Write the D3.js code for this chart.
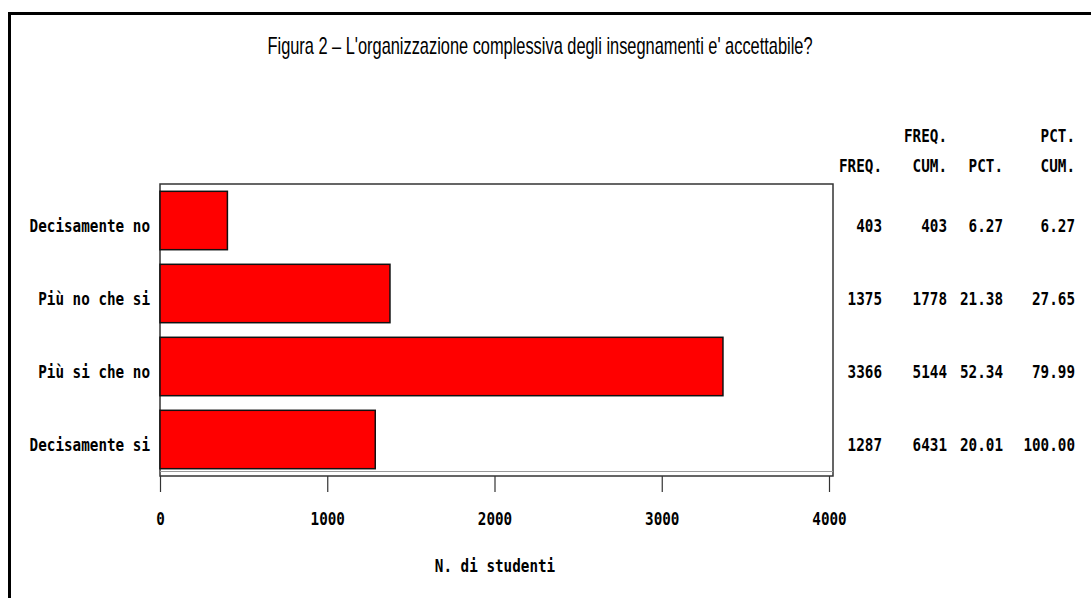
<!DOCTYPE html>
<html>
<head>
<meta charset="utf-8">
<script src="https://cdn.jsdelivr.net/npm/d3@7"></script>
<style>
  body { margin: 0; background: #fff; }
  .mono { font-family: "DejaVu Sans Mono", "Liberation Mono", monospace; font-size: 17px; font-weight: bold; fill: #000; }
</style>
</head>
<body>
<div id="chart"></div>
<script>
// data
var categories = ["Decisamente no", "Più no che si", "Più si che no", "Decisamente si"];
var freq = [403, 1375, 3366, 1287];
var freqCum = [403, 1778, 5144, 6431];
var pct = [6.27, 21.38, 52.34, 20.01];
var pctCum = [6.27, 27.65, 79.99, 100.00];
var xTicks = [0, 1000, 2000, 3000, 4000];
var colHead1 = ["", "FREQ.", "", "PCT."];
var colHead2 = ["FREQ.", "CUM.", "PCT.", "CUM."];

var svgWidth = 1091;
var svgHeight = 598;
var charW = 8.6;

var box = { left: 160, top: 184, right: 833, bottom: 476 };

var svg = d3.select("#chart")
  .append("svg")
  .attr("width", svgWidth)
  .attr("height", svgHeight);

svg.append("rect")
  .attr("width", svgWidth)
  .attr("height", svgHeight)
  .attr("fill", "#fff");

// outer frame (only left and top visible)
svg.append("path")
  .attr("d", "M9.5," + svgHeight + " V13.5 H" + svgWidth)
  .attr("fill", "none")
  .attr("stroke", "#000")
  .attr("stroke-width", 3);

// title
svg.append("text")
  .attr("x", 540)
  .attr("y", 54)
  .attr("text-anchor", "middle")
  .attr("textLength", 545)
  .attr("lengthAdjust", "spacingAndGlyphs")
  .style("font-family", "'Liberation Sans', Arial, sans-serif")
  .style("font-size", "24px")
  .text("Figura 2 \u2013 L'organizzazione complessiva degli insegnamenti e' accettabile?");

var xScale = d3.scaleLinear()
  .domain([0, 4000])
  .range([box.left, 829]);

var yScale = d3.scaleBand()
  .domain(categories)
  .range([box.top, box.bottom])
  .paddingInner(0.2)
  .paddingOuter(0.1);

// mono text helper: squeeze to the condensed look of the original
function monoText(g, x, y, str, anchor) {
  return g.append("text")
    .attr("class", "mono")
    .attr("x", x)
    .attr("y", y)
    .attr("dy", "0.36em")
    .attr("text-anchor", anchor || "end")
    .attr("textLength", str.length * charW)
    .attr("lengthAdjust", "spacingAndGlyphs")
    .text(str);
}

// plot frame
svg.append("rect")
  .attr("x", box.left)
  .attr("y", box.top)
  .attr("width", box.right - box.left)
  .attr("height", box.bottom - box.top)
  .attr("fill", "none")
  .attr("stroke", "#333")
  .attr("stroke-width", 1.5);

svg.append("line")
  .attr("x1", box.left).attr("x2", box.right)
  .attr("y1", 471.5).attr("y2", 471.5)
  .attr("stroke", "#999")
  .attr("stroke-width", 1);

// bars
svg.selectAll("rect.bar")
  .data(categories)
  .enter()
  .append("rect")
  .attr("class", "bar")
  .attr("x", xScale(0))
  .attr("y", d => yScale(d))
  .attr("width", (d, i) => xScale(freq[i]) - xScale(0))
  .attr("height", yScale.bandwidth())
  .attr("fill", "#ff0000")
  .attr("stroke", "#111")
  .attr("stroke-width", 1.5);

// category labels
categories.forEach(function(c, i) {
  monoText(svg, 150, yScale(c) + yScale.bandwidth() / 2 + 5, c);
});

// x axis
var bottomAxis = d3.axisBottom(xScale)
  .tickValues(xTicks)
  .tickSize(16)
  .tickPadding(21)
  .tickFormat(d3.format("d"));

var axisG = svg.append("g")
  .attr("transform", `translate(0, ${box.bottom})`)
  .call(bottomAxis);

axisG.select(".domain").remove();
axisG.selectAll(".tick line").attr("stroke", "#333").attr("stroke-width", 1.2);
axisG.selectAll(".tick text")
  .attr("class", "mono")
  .attr("y", 43)
  .attr("dy", "0.36em")
  .style("font-family", "'DejaVu Sans Mono', monospace")
  .style("font-size", "17px")
  .style("font-weight", "bold")
  .attr("textLength", d => String(d).length * charW)
  .attr("lengthAdjust", "spacingAndGlyphs");

monoText(svg, 495, 566, "N. di studenti", "middle");

// statistics table on the right
var colRight = [882, 947, 1003, 1075];
var columns = [
  freq.map(d => String(d)),
  freqCum.map(d => String(d)),
  pct.map(d => d.toFixed(2)),
  pctCum.map(d => d.toFixed(2))
];

colHead1.forEach(function(h, j) {
  if (h) monoText(svg, colRight[j], 136, h);
});
colHead2.forEach(function(h, j) {
  monoText(svg, colRight[j], 166, h);
});

columns.forEach(function(col, j) {
  col.forEach(function(v, i) {
    monoText(svg, colRight[j], yScale(categories[i]) + yScale.bandwidth() / 2 + 5, v);
  });
});
</script>
</body>
</html>
